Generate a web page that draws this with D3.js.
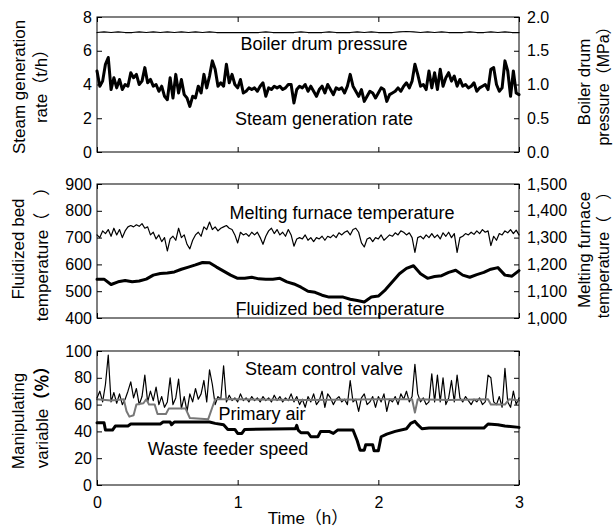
<!DOCTYPE html>
<html><head><meta charset="utf-8">
<script src="https://cdn.jsdelivr.net/npm/d3@7"></script>
<style>
body{margin:0;background:#fff}
svg text{font-family:"Liberation Sans",Arial,"Noto Sans CJK SC",sans-serif;fill:#000}
</style></head><body>
<svg id="chart" width="613" height="530"></svg>
<script>
// ---------- tick labels ----------
const timeTicks = [0, 1, 2, 3];
const steamRateTicks = [0, 2, 4, 6, 8];
const pressureTicks = [0.0, 0.5, 1.0, 1.5, 2.0];
const bedTicks = [400, 500, 600, 700, 800, 900];
const furnaceTicks = [1000, 1100, 1200, 1300, 1400, 1500];
const manipTicks = [0, 20, 40, 60, 80, 100];

// ---------- series (sampled every 0.02 h unless noted) ----------
const steamRate = [
 4.8,3.9,4.2,5.2,5.6,3.7,4.4,3.8,4.3,3.7,
 4.0,3.9,4.7,4.4,4.6,4.0,4.2,5.0,4.1,4.3,
 3.9,4.0,3.6,3.9,3.3,3.1,4.4,3.2,4.6,3.5,
 4.3,3.4,3.2,2.7,3.3,3.2,3.9,3.5,4.6,3.8,
 4.5,5.4,4.9,3.9,4.1,3.9,5.2,4.1,4.6,4.0,
 3.8,4.3,3.5,3.6,3.8,3.7,3.8,3.6,3.9,4.1,
 3.3,3.8,3.7,3.9,3.8,3.9,3.7,3.8,4.0,4.0,
 2.9,3.7,3.9,3.8,4.0,3.6,3.9,3.6,3.3,3.7,
 3.9,3.5,4.0,3.7,3.4,3.8,3.7,3.8,3.5,3.9,
 4.6,3.9,3.6,3.3,3.7,3.0,3.3,3.6,3.5,3.2,
 3.5,3.8,3.7,3.0,3.4,3.5,3.6,3.8,3.6,3.9,
 4.1,3.8,4.2,5.2,4.6,3.9,4.0,3.7,4.8,3.8,
 4.7,3.7,4.9,3.9,4.4,4.7,4.2,4.5,3.9,4.3,
 3.9,4.0,3.8,3.9,4.1,3.6,3.8,3.9,4.0,3.7,
 4.9,5.0,4.0,3.6,3.8,5.4,4.8,3.3,4.8,3.5,
 3.4];

// sampled every 0.05 h
const drumPressure = [
 1.77,1.78,1.77,1.78,1.77,1.77,1.78,1.77,1.78,1.77,
 1.78,1.77,1.78,1.77,1.78,1.77,1.78,1.77,1.77,1.77,
 1.77,1.77,1.77,1.77,1.78,1.77,1.77,1.77,1.77,1.78,
 1.77,1.77,1.77,1.78,1.77,1.77,1.77,1.78,1.77,1.78,
 1.77,1.77,1.77,1.78,1.785,1.78,1.77,1.78,1.77,1.78,
 1.77,1.77,1.77,1.78,1.77,1.77,1.78,1.77,1.78,1.77,
 1.77];

const furnaceTemp = [
 1310,1300,1325,1315,1330,1305,1335,1310,1330,1300,
 1325,1340,1345,1340,1348,1342,1352,1335,1340,1310,
 1320,1295,1310,1285,1300,1250,1295,1305,1290,1335,
 1300,1310,1275,1258,1290,1310,1320,1305,1340,1330,
 1358,1330,1340,1325,1335,1340,1345,1335,1330,1310,
 1280,1320,1310,1315,1305,1320,1310,1320,1300,1275,
 1305,1325,1335,1315,1330,1310,1320,1305,1330,1310,
 1268,1295,1300,1295,1310,1290,1300,1285,1300,1295,
 1305,1290,1305,1300,1310,1300,1318,1310,1320,1325,
 1310,1330,1335,1320,1280,1265,1295,1300,1285,1300,
 1295,1310,1290,1300,1310,1305,1318,1310,1325,1320,
 1310,1318,1300,1245,1300,1305,1295,1310,1300,1315,
 1300,1310,1295,1318,1305,1320,1300,1315,1245,1300,
 1305,1315,1310,1320,1312,1325,1315,1330,1320,1325,
 1270,1305,1290,1315,1310,1325,1318,1330,1315,1328,
 1310];

// sampled every 0.05 h
const bedTemp = [
 545,545,525,535,540,535,538,545,560,566,
 568,572,582,590,598,607,606,590,575,560,
 548,548,552,546,545,545,548,535,527,515,
 500,496,485,478,478,478,470,465,460,478,
 482,505,535,565,585,595,565,548,555,558,
 570,578,560,552,562,570,582,588,560,556,
 577];

const steamValve = [
 65,70,62,75,97,62,69,61,68,60,
 64,70,77,65,72,60,66,82,62,70,
 63,73,60,66,58,62,80,60,65,79,
 57,66,55,68,62,72,64,68,78,62,
 86,75,60,66,64,89,62,67,63,65,
 62,68,63,65,62,66,63,65,62,66,
 63,65,62,67,63,66,62,65,63,68,
 62,66,60,64,58,66,62,68,60,63,
 70,58,68,65,60,64,66,62,64,60,
 78,62,64,55,65,68,60,62,66,58,
 66,62,68,55,64,62,66,60,68,64,
 70,62,66,90,68,62,65,60,62,83,
 62,82,62,80,60,65,78,62,82,65,
 62,66,63,60,64,62,65,60,62,82,
 80,62,60,66,58,87,62,58,70,60,
 65];

// breakpoint series
const primaryAirTime  = [0,0.1,0.19,0.21,0.23,0.26,0.28,0.33,0.35,0.37,0.41,0.43,0.49,0.51,0.63,0.66,0.79,0.82,0.84,1.0,1.5,2.0,2.24,2.26,2.28,2.5,2.78,2.8,2.9,2.93,3.0];
const primaryAirValue = [64,63,64,55,51,52,60,61,64,60,60,53,53,57,57,50,49,58,64,64,63.5,64,64,54,64,63.5,64,60,60,64,63];

const feederTime  = [0,0.05,0.06,0.11,0.13,0.22,0.24,0.45,0.47,0.52,0.53,0.55,0.8,0.84,0.9,0.93,0.98,1.0,1.03,1.05,1.38,1.41,1.42,1.43,1.45,1.5,1.52,1.57,1.59,1.65,1.68,1.71,1.82,1.85,1.87,1.9,1.91,1.96,1.97,2.0,2.02,2.06,2.12,2.2,2.23,2.26,2.28,2.31,2.36,2.75,2.78,2.85,2.9,3.0];
const feederValue = [46.5,46.5,41,41,44,44,45.5,45.5,47,47,45,47,47,46,45,41.5,41.5,38.5,38.5,41.5,42,42,44.5,41,39,39,36,36,40,40,38.5,41,41,33,26,26,30,30,25.5,25.5,36,38,40,42,46,47.5,45,42,42.5,42.5,45.5,45,44,43];

// ---------- drawing ----------
const svg = d3.select("#chart");
const X0 = 97, X1 = 519;
const x = d3.scaleLinear().domain([0, 3]).range([X0, X1]);
const panels = [{top: 17, bottom: 152}, {top: 184, bottom: 318}, {top: 351, bottom: 485}];

const yRate = d3.scaleLinear().domain([0, 8]).range([panels[0].bottom, panels[0].top]);
const yPress = d3.scaleLinear().domain([0, 2]).range([panels[0].bottom, panels[0].top]);
const yBed = d3.scaleLinear().domain([400, 900]).range([panels[1].bottom, panels[1].top]);
const yFurn = d3.scaleLinear().domain([1000, 1500]).range([panels[1].bottom, panels[1].top]);
const yMan = d3.scaleLinear().domain([0, 100]).range([panels[2].bottom, panels[2].top]);

const TICK = 5, FS = 16;

function styleAxis(g) {
  g.attr("font-family", null).attr("font-size", null);
  g.select(".domain").remove();
  g.selectAll("line").attr("stroke", "#000");
  g.selectAll("text").style("font-size", FS + "px");
}

function frame(p) {
  svg.append("rect").attr("x", X0).attr("y", p.top).attr("width", X1 - X0).attr("height", p.bottom - p.top)
    .attr("fill", "none").attr("stroke", "#000").attr("stroke-width", 1);
}

function xTicks(p, labels) {
  svg.append("g").attr("transform", `translate(0,${p.top})`)
    .call(d3.axisTop(x).tickValues(timeTicks).tickSize(-TICK).tickFormat("")).call(styleAxis);
  svg.append("g").attr("transform", `translate(0,${p.bottom})`)
    .call(d3.axisBottom(x).tickValues(timeTicks).tickSize(-TICK).tickPadding(12)
      .tickFormat(labels ? d3.format("d") : "")).call(styleAxis);
}

function leftAxis(scale, ticks, fmt) {
  svg.append("g").attr("transform", `translate(${X0},0)`)
    .call(d3.axisLeft(scale).tickValues(ticks).tickSize(-TICK).tickPadding(5).tickFormat(fmt)).call(styleAxis);
}
function rightAxis(scale, ticks, fmt) {
  svg.append("g").attr("transform", `translate(${X1},0)`)
    .call(d3.axisRight(scale).tickValues(ticks).tickSize(-TICK).tickPadding(8).tickFormat(fmt)).call(styleAxis);
}

const t02 = (d, i) => x(i * 0.02);
const t05 = (d, i) => x(i * 0.05);

function drawLine(data, xf, yf, color, w) {
  svg.append("path").datum(data)
    .attr("d", d3.line().x(xf).y(yf))
    .attr("fill", "none").attr("stroke", color).attr("stroke-width", w)
    .attr("stroke-linejoin", "round").attr("stroke-linecap", "round");
}

// panel 1
drawLine(drumPressure, t05, d => yPress(d), "#000", 1.2);
drawLine(steamRate, t02, d => yRate(d), "#000", 3);
frame(panels[0]); xTicks(panels[0], false);
leftAxis(yRate, steamRateTicks, d3.format("d"));
rightAxis(yPress, pressureTicks, d3.format(".1f"));

// panel 2
drawLine(furnaceTemp, t02, d => yFurn(d), "#000", 1.2);
drawLine(bedTemp, t05, d => yBed(d), "#000", 3);
frame(panels[1]); xTicks(panels[1], false);
leftAxis(yBed, bedTicks, d3.format("d"));
rightAxis(yFurn, furnaceTicks, d3.format(","));

// panel 3
drawLine(steamValve, t02, d => yMan(d), "#000", 1.2);
drawLine(primaryAirValue, (d, i) => x(primaryAirTime[i]), d => yMan(d), "#777", 2);
drawLine(feederValue, (d, i) => x(feederTime[i]), d => yMan(d), "#000", 3);
frame(panels[2]); xTicks(panels[2], true);
leftAxis(yMan, manipTicks, d3.format("d"));
rightAxis(yMan, manipTicks, "");

// annotations
const notes = [
  ["Boiler drum pressure", 324, 50],
  ["Steam generation rate", 324, 124.5],
  ["Melting furnace temperature", 342, 219],
  ["Fluidized bed temperature", 340, 314.5],
  ["Steam control valve", 324, 374.5],
  ["Primary air", 262, 420],
  ["Waste feeder speed", 228, 454.5]
];
svg.selectAll(".note").data(notes).enter().append("text")
  .attr("x", d => d[1]).attr("y", d => d[2])
  .attr("text-anchor", "middle").style("font-size", "18px").text(d => d[0]);

// axis titles (rotated)
function vTitle(parts, cx, cy, fs) {
  const t = svg.append("text").attr("transform", `translate(${cx},${cy}) rotate(-90)`)
    .attr("text-anchor", "middle").attr("dy", "0.35em").style("font-size", (fs || 17) + "px");
  parts.forEach(p => {
    const s = t.append("tspan").text(p[0]);
    if (p[1]) s.style("font-weight", "bold");
  });
}
vTitle([["Steam generation"]], 19, 87);
vTitle([["rate（t/h）"]], 41, 82);
vTitle([["Fluidized bed"]], 18, 249);
vTitle([["temperature（　）"]], 42, 250);
vTitle([["Manipulating"]], 18, 421);
vTitle([["variable"], ["（％）", true]], 42, 413);
vTitle([["Boiler drum"]], 584, 82);
vTitle([["pressure（MPa）"]], 603, 82, 16);
vTitle([["Melting furnace"]], 584, 250);
vTitle([["temperature（　）"]], 603, 251, 16);

// x title
svg.append("text").attr("x", 308).attr("y", 524).attr("text-anchor", "middle")
  .style("font-size", "17px").text("Time（h）");
</script>
</body></html>
